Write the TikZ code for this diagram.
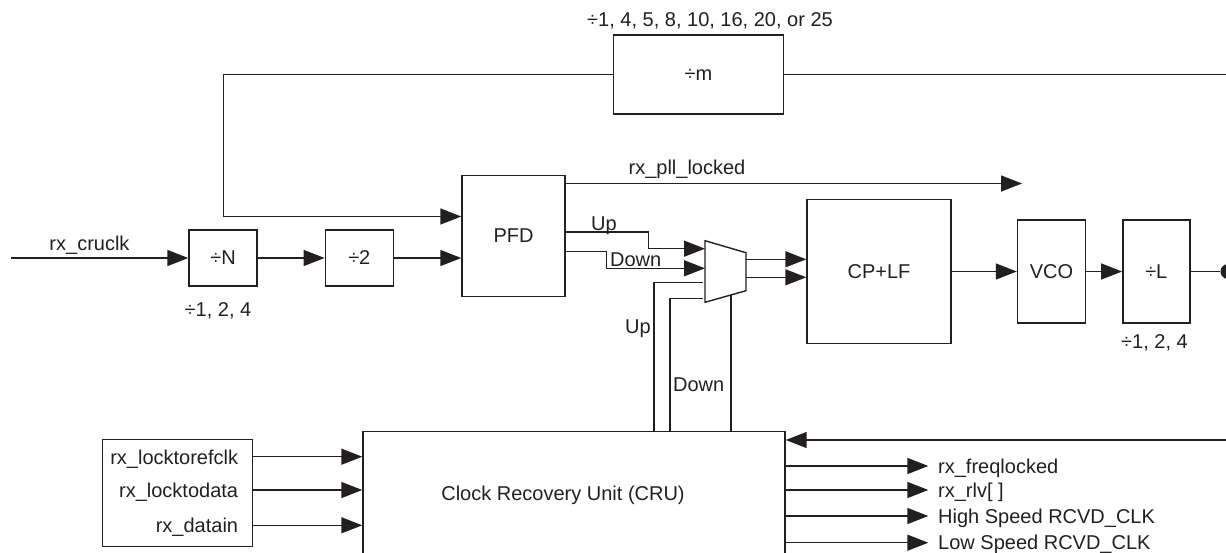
\documentclass[tikz,border=0pt]{standalone}
\usepackage{fontspec}
\setmainfont{Liberation Sans}
\usetikzlibrary{arrows.meta,calc}
\definecolor{ink}{HTML}{231F20}
\begin{document}
\begin{tikzpicture}[x=1pt,y=-1pt,
  every node/.style={font=\fontsize{20}{24}\selectfont, text=ink},
  wire/.style={draw=ink, line width=1.4pt},
  arr/.style={wire, -{Triangle[length=21pt,width=16pt]}},
  blk/.style={draw=ink, line width=1.4pt, rectangle, inner sep=0pt},
  lbl/.style={inner sep=0pt}]
\useasboundingbox (0,0) rectangle (1226,552);
\clip (0,0) rectangle (1226,552);

% blocks
\node[blk, minimum width=68pt, minimum height=56pt] (divN) at (223,258) {÷N};
\node[blk, minimum width=68pt, minimum height=56pt] (div2) at (359.3,258) {÷2};
\node[blk, minimum width=103pt, minimum height=121pt] (pfd) at (513.5,235.7) {PFD};
\node[blk, minimum width=170pt, minimum height=79pt] (divm) at (698.5,74.5) {÷m};
\node[blk, minimum width=144pt, minimum height=144pt] (cplf) at (879,271.5) {CP+LF};
\node[blk, minimum width=68pt, minimum height=103pt] (vco) at (1051.5,271.5) {VCO};
\node[blk, minimum width=67pt, minimum height=103pt] (divL) at (1156.3,271.5) {÷L};
\node[blk, minimum width=422pt, minimum height=140pt, anchor=north west] (cru) at (362.3,431) {};
\node[lbl, anchor=base] (crut) at (563,500) {Clock Recovery Unit (CRU)};
\node[blk, minimum width=150pt, minimum height=107pt] (inbox) at (177.7,492.7) {};
\node[circle, fill=ink, inner sep=0pt, minimum size=15pt] (dot) at (1228,271.5) {};

% labels
\node[lbl, anchor=base] (tcru) at (89.5,250.7) {rx\_cruclk};
\node[lbl, anchor=base] (tn) at (218,316) {÷1, 2, 4};
\node[lbl, anchor=base] (tl) at (1154.5,348.3) {÷1, 2, 4};
\node[lbl, anchor=base] (tm) at (710,26) {÷1, 4, 5, 8, 10, 16, 20, or 25};
\node[lbl, anchor=base] (tpll) at (687,174.5) {rx\_pll\_locked};
\node[lbl, anchor=base] (tup1) at (604,230.5) {Up};
\node[lbl, anchor=base] (tdn1) at (635.7,266) {Down};
\node[lbl, anchor=base east] (tup2) at (651,333) {Up};
\node[lbl, anchor=base] (tdn2) at (698.7,391) {Down};
\node[lbl, anchor=base east] (l1) at (238.3,464) {rx\_locktorefclk};
\node[lbl, anchor=base east] (l2) at (238.3,497) {rx\_locktodata};
\node[lbl, anchor=base east] (l3) at (238.3,532.3) {rx\_datain};
\node[lbl, anchor=base west] (o1) at (938,473) {rx\_freqlocked};
\node[lbl, anchor=base west] (o2) at (938,497) {rx\_rlv[ ]};
\node[lbl, anchor=base west] (o3) at (938,523) {High Speed RCVD\_CLK};
\node[lbl, anchor=base west] (o4) at (938,549.7) {Low Speed RCVD\_CLK};

% mux
\coordinate (m1) at (705,240.7);
\coordinate (m2) at (746,252.7);
\coordinate (m3) at (746,290.7);
\coordinate (m4) at (705,302.3);
\draw[wire, line join=miter] (m1) -- (m2) -- (m3) -- (m4) -- cycle;
\coordinate (muxU) at (705,248.7);
\coordinate (muxD) at (705,268.3);
\coordinate (mo1) at (746,259.3);
\coordinate (mo2) at (746,277.3);
\coordinate (cu) at (702.7,282.3);
\coordinate (cd) at (702.7,298.3);
\coordinate (cuB) at (654,282.3);
\coordinate (cdB) at (670,298.3);
\coordinate (sel) at (731,294.9);

% connectors
\coordinate (cin) at (11,258);
\draw[arr] (cin) -- (divN.west);
\draw[arr] (divN.east) -- (div2.west);
\draw[arr] (div2.east) -- (div2.east -| pfd.west);
\coordinate (fbL) at (223.5,216.5);
\draw[arr] (divm.west) -| (fbL) -- (fbL -| pfd.west);
\coordinate (fbTop) at (1240,74.5);
\draw[wire] (fbTop) -- (divm.east);
\coordinate (pll) at (1022,183.5);
\draw[arr] (pll -| pfd.east) -- (pll);
\draw[arr] ([yshift=3.7pt]pfd.east) -- ++(83,0) |- (muxU);
\draw[arr] ([yshift=-15.6pt]pfd.east) -- ++(40.6,0) |- (muxD);
\draw[arr] (mo1) -- (mo1 -| cplf.west);
\draw[arr] (mo2) -- (mo2 -| cplf.west);
\draw[wire] (cuB |- cru.north) -- (cuB) -- (cu);
\draw[wire] (cdB |- cru.north) -- (cdB) -- (cd);
\draw[wire] (sel |- cru.north) -- (sel);
\draw[arr] (cplf.east) -- (vco.west);
\draw[arr] (vco.east) -- (divL.west);
\draw[wire] (divL.east) -- (dot);
\coordinate (fbR) at (1240,440);
\draw[arr] (fbR) -- (fbR -| cru.east);
\coordinate (i1) at (0,456.7);
\coordinate (i2) at (0,490);
\coordinate (i3) at (0,525.3);
\draw[arr] (i1 -| inbox.east) -- (i1 -| cru.west);
\draw[arr] (i2 -| inbox.east) -- (i2 -| cru.west);
\draw[arr] (i3 -| inbox.east) -- (i3 -| cru.west);
\coordinate (t1) at (928.3,466);
\coordinate (t2) at (928.3,490);
\coordinate (t3) at (928.3,516);
\coordinate (t4) at (928.3,542.7);
\draw[arr] (t1 -| cru.east) -- (t1);
\draw[arr] (t2 -| cru.east) -- (t2);
\draw[arr] (t3 -| cru.east) -- (t3);
\draw[arr] (t4 -| cru.east) -- (t4);
\end{tikzpicture}
\end{document}
